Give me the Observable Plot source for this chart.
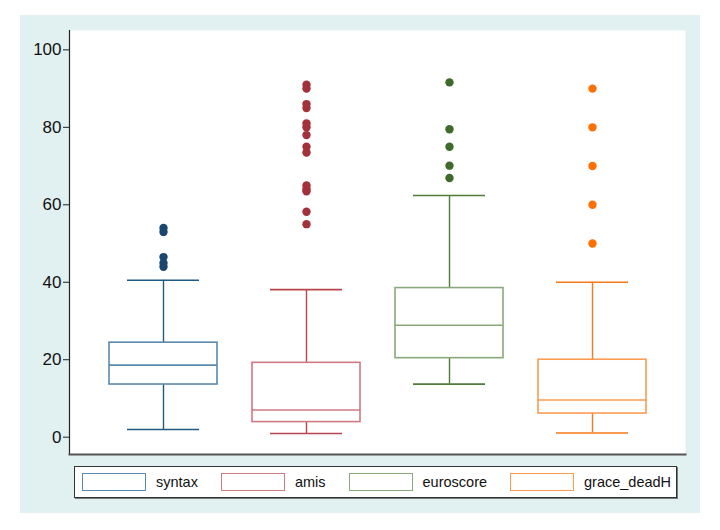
<!DOCTYPE html>
<html>
<head>
<meta charset="utf-8">
<script src="https://cdn.jsdelivr.net/npm/d3@7"></script>
<script src="https://cdn.jsdelivr.net/npm/@observablehq/plot@0.6"></script>
<style>
  html, body { margin: 0; padding: 0; background: #ffffff; width: 720px; height: 530px; overflow: hidden; font-family: "Liberation Sans", Arial, Helvetica, sans-serif; }
  #panel { position: absolute; left: 20px; top: 15px; width: 680px; height: 498px; background: #e1f0f1; }
  #chart { position: absolute; left: 0; top: 0; }
  #legend { position: absolute; left: 74px; top: 466px; height: 30px; background: #fff; border: 1.5px solid #333; box-shadow: 1px 1px 0 #777; display: flex; align-items: center; box-sizing: content-box; }
  .item { display: flex; align-items: center; margin-right: 23px; font-size: 14.5px; color: #111; }
  .sw { width: 62px; height: 16px; border: 1.6px solid; background: #fff; margin-right: 10px; }
</style>
</head>
<body>
<div id="panel"></div>
<div id="chart"></div>
<div id="legend"></div>
<script>
const categories = ["syntax", "amis", "euroscore", "grace_deadH"];
const whiskerLow = [2.0, 0.95, 13.7, 1.1];
const q1 = [13.6, 3.9, 20.4, 6.1];
const median = [18.6, 7.0, 28.9, 9.6];
const q3 = [24.4, 19.2, 38.5, 20.0];
const whiskerHigh = [40.5, 38.1, 62.4, 40.0];
const outliersSyntax = [44, 45, 46.5, 53, 54];
const outliersAmis = [55, 58.2, 63.5, 64, 65, 73.5, 75, 78, 80, 81, 85, 86, 90, 91];
const outliersEuroscore = [66.9, 70.1, 75.0, 79.5, 91.6];
const outliersGrace = [50, 60, 70, 80, 90];
const yTicks = [0, 20, 40, 60, 80, 100];

const dotColors = ["#1a476f", "#a3313a", "#3f6b2a", "#ff7000"];
const lineColors = ["#1f5a82", "#b8444d", "#4f7a38", "#f77a1a"];
const boxColors = ["#5a89ad", "#cf7a80", "#8aa97b", "#fb9c52"];

const stats = categories.map((c, i) => ({
  cat: c, lo: whiskerLow[i], q1: q1[i], med: median[i], q3: q3[i], hi: whiskerHigh[i],
  dot: dotColors[i], line: lineColors[i], box: boxColors[i]
}));
const outlierLists = [outliersSyntax, outliersAmis, outliersEuroscore, outliersGrace];
const outliers = outlierLists.flatMap((arr, i) => arr.map(v => ({cat: categories[i], v, dot: dotColors[i]})));

const chart = Plot.plot({
  width: 720,
  height: 460,
  marginLeft: 69,
  marginRight: 35,
  marginTop: 30,
  marginBottom: 6,
  style: {background: "transparent", fontFamily: "'Liberation Sans', Arial, sans-serif"},
  x: {domain: categories, paddingInner: 0.2448, paddingOuter: 0.2762, axis: null},
  y: {domain: [-4.47, 105], axis: null},
  marks: [
    Plot.frame({fill: "white", stroke: null}),
    Plot.ruleX(stats, {x: "cat", y1: "lo", y2: "hi", stroke: "line", strokeWidth: 1.4}),
    Plot.tickY(stats, {x: "cat", y: "lo", stroke: "line", strokeWidth: 1.6, insetLeft: 18, insetRight: 18}),
    Plot.tickY(stats, {x: "cat", y: "hi", stroke: "line", strokeWidth: 1.6, insetLeft: 18, insetRight: 18}),
    Plot.barY(stats, {x: "cat", y1: "q1", y2: "q3", fill: "white", stroke: "box", strokeWidth: 1.6}),
    Plot.tickY(stats, {x: "cat", y: "med", stroke: "box", strokeWidth: 1.6}),
    Plot.dot(outliers, {x: "cat", y: "v", fill: "dot", r: 4.2, stroke: null}),
    Plot.axisY({ticks: yTicks, tickSize: 6, tickPadding: 2, fontSize: 17, label: null, color: "#111", stroke: "#222"}),
    Plot.frame({anchor: "left", stroke: "#222", strokeWidth: 1.2}),
    Plot.frame({anchor: "bottom", stroke: "#555", strokeWidth: 2})
  ]
});
document.getElementById("chart").appendChild(chart);

const legend = document.getElementById("legend");
legend.style.paddingLeft = "7px";
legend.style.width = "594px";
categories.forEach((c, i) => {
  const item = document.createElement("div");
  item.className = "item";
  const sw = document.createElement("div");
  sw.className = "sw";
  sw.style.borderColor = boxColors[i];
  const t = document.createElement("span");
  t.textContent = c;
  item.appendChild(sw);
  item.appendChild(t);
  legend.appendChild(item);
});
</script>
</body>
</html>
